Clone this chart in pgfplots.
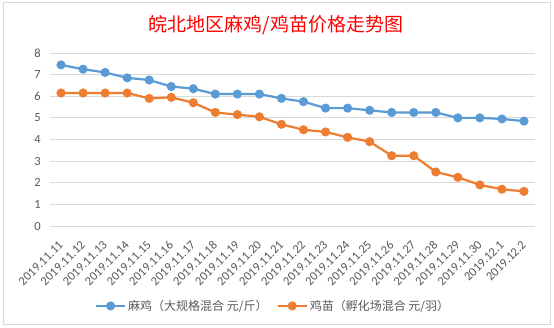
\documentclass[border=0pt]{standalone}
\usepackage{pgfplots}
\pgfplotsset{compat=1.18}
\usepackage{fontspec}
\setmainfont{Carlito}
\newfontfamily\cjk{Noto Sans CJK SC}
\definecolor{mblue}{HTML}{5B9BD5}
\definecolor{morange}{HTML}{ED7D31}
\definecolor{tgray}{HTML}{595959}
\definecolor{ggray}{HTML}{D9D9D9}
\begin{document}
\begin{tikzpicture}[x=1pt,y=1pt]
\useasboundingbox (0,0) rectangle (554,328);
\fill[white] (0,0) rectangle (554,328);
\draw[ggray, line width=1pt] (3,3.5) rectangle (550,325.5);
\node[text=red, font=\cjk\fontsize{19}{19}\selectfont] at (276,303) {皖北地区麻鸡/鸡苗价格走势图};
\begin{axis}[
  at={(50pt,102pt)}, anchor=south west, scale only axis,
  width=485pt, height=173pt,
  xmin=-0.5, xmax=21.5, ymin=0, ymax=8,
  ytick={0,1,2,3,4,5,6,7,8},
  xtick={0,...,21},
  xticklabels={2019.11.11,2019.11.12,2019.11.13,2019.11.14,2019.11.15,2019.11.16,2019.11.17,2019.11.18,2019.11.19,2019.11.20,2019.11.21,2019.11.22,2019.11.23,2019.11.24,2019.11.25,2019.11.26,2019.11.27,2019.11.28,2019.11.29,2019.11.30,2019.12.1,2019.12.2},
  axis line style={draw=none},
  ymajorgrids, grid style={ggray, line width=0.8pt},
  major tick length=0pt,
  /pgf/number format/assume math mode=true,
  tick label style={font=\fontsize{12.5}{12.5}\selectfont, text=tgray},
  xticklabel style={rotate=45, anchor=east, inner sep=0pt},
  xticklabel shift=17pt,
  yticklabel style={anchor=east, inner sep=0pt},
  yticklabel shift=9pt,
  clip=false,
  legend columns=2,
  legend style={at={(0.46,-0.462)}, anchor=center, draw=none, fill=none,
    font=\cjk\fontsize{12}{12}\selectfont, text=tgray,
    /tikz/every even column/.append style={column sep=7pt},
    nodes={inner sep=2pt}},
  legend image code/.code={\draw[#1, mark repeat=2, mark phase=2] plot coordinates {(0pt,0pt) (14.5pt,0pt) (29pt,0pt)};},
]
\addplot[mblue, line width=2.2pt, mark=*, mark size=3.4pt, mark options={solid, fill=mblue}] coordinates {
(0,7.45)(1,7.25)(2,7.1)(3,6.85)(4,6.75)(5,6.45)(6,6.35)(7,6.1)(8,6.1)(9,6.1)(10,5.9)(11,5.75)(12,5.45)(13,5.45)(14,5.35)(15,5.25)(16,5.25)(17,5.25)(18,5.0)(19,5.0)(20,4.95)(21,4.85)};
\addlegendentry{麻鸡（大规格混合 元/斤）}
\addplot[morange, line width=2.2pt, mark=*, mark size=3.4pt, mark options={solid, fill=morange}] coordinates {
(0,6.15)(1,6.15)(2,6.15)(3,6.15)(4,5.9)(5,5.95)(6,5.7)(7,5.25)(8,5.15)(9,5.05)(10,4.7)(11,4.45)(12,4.35)(13,4.1)(14,3.9)(15,3.25)(16,3.25)(17,2.5)(18,2.25)(19,1.9)(20,1.7)(21,1.6)};
\addlegendentry{鸡苗（孵化场混合 元/羽）}
\end{axis}
\end{tikzpicture}
\end{document}
